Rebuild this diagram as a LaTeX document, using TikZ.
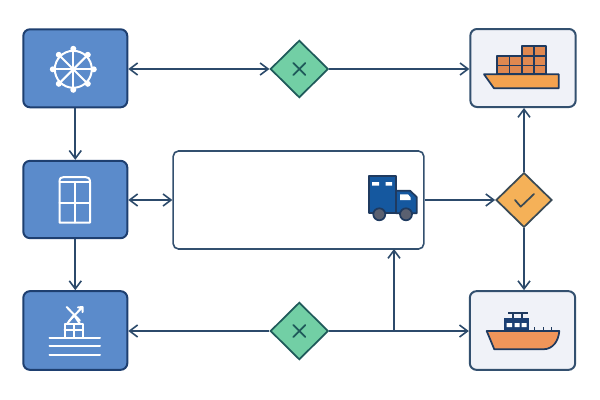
\documentclass[tikz,border=0pt]{standalone}
\usetikzlibrary{shapes.geometric,arrows.meta}
\definecolor{linec}{HTML}{2C4A6B}
\definecolor{blueF}{HTML}{5B8BCB}
\definecolor{blueD}{HTML}{1E3F70}
\definecolor{paleF}{HTML}{F0F2F8}
\definecolor{paleD}{HTML}{33506F}
\definecolor{greenF}{HTML}{72CFA5}
\definecolor{greenD}{HTML}{1F5A5A}
\definecolor{orangeF}{HTML}{F5B158}
\definecolor{orangeD}{HTML}{3A4A55}
\definecolor{hullA}{HTML}{F4A24F}
\definecolor{crate}{HTML}{E08850}
\definecolor{hullB}{HTML}{F0955A}
\definecolor{navy}{HTML}{1B3F73}
\definecolor{darkO}{HTML}{1F3A5F}
\definecolor{truckF}{HTML}{15589F}
\definecolor{wheelF}{HTML}{5A6070}
\tikzset{
  bluebox/.style={draw=blueD,fill=blueF,line width=1.5pt,rounded corners=5pt,inner sep=0pt},
  palebox/.style={draw=paleD,fill=paleF,line width=1.5pt,rounded corners=5pt,inner sep=0pt},
  centerbox/.style={draw=paleD,fill=white,line width=1.2pt,rounded corners=4pt,inner sep=0pt},
  greendia/.style={diamond,aspect=1,draw=greenD,fill=greenF,line width=1.3pt,inner sep=0pt,minimum width=43.5pt,minimum height=43pt},
  orangedia/.style={diamond,aspect=1,draw=orangeD,fill=orangeF,line width=1.3pt,inner sep=0pt,minimum width=42pt,minimum height=41pt},
  conn/.style={draw=linec,line width=1.35pt,-{Straight Barb[length=6pt,width=9pt,line width=1.2pt]}},
  connb/.style={draw=linec,line width=1.35pt,{Straight Barb[length=6pt,width=9pt,line width=1.2pt]}-{Straight Barb[length=6pt,width=9pt,line width=1.2pt]}},
  glyph/.style={draw=white,line width=1.5pt,line cap=round,line join=round},
  sign/.style={line width=1.3pt,line cap=round,line join=round},
  outl/.style={draw=darkO,line width=1.3pt,line join=round}
}
\begin{document}
\begin{tikzpicture}[x=0.75pt,y=-0.75pt]
\useasboundingbox (0,0) rectangle (600,400);
\fill[white] (0,0) rectangle (600,400);
% boxes
\node[bluebox,minimum width=78pt,minimum height=58.5pt] (a1) at (75.3,68.3) {};
\node[bluebox,minimum width=78pt,minimum height=58pt] (a2) at (75.3,199.5) {};
\node[bluebox,minimum width=78pt,minimum height=59pt] (a3) at (75.3,330.5) {};
\node[palebox,minimum width=79pt,minimum height=58.5pt] (r1) at (523,68) {};
\node[palebox,minimum width=79pt,minimum height=59pt] (r3) at (522.5,330.5) {};
\node[centerbox,minimum width=188pt,minimum height=73.5pt] (c) at (298.5,200) {};
\node[greendia] (d1) at (299.3,69) {};
\node[greendia] (d2) at (299.3,331) {};
\node[orangedia] (d3) at (524,200) {};
\coordinate (j) at (394,331);
\coordinate (jt) at (394,249);
% connectors
\draw[connb] (a1.east |- d1) -- (d1.west);
\draw[conn] (d1.east) -- (r1.west |- d1);
\draw[conn] (a1.south) -- (a2.north);
\draw[conn] (a2.south) -- (a3.north);
\draw[connb] (a2.east |- d3) -- (c.west |- d3);
\draw[conn] (c.east |- d3) -- (d3.west);
\draw[conn] (d3.north) -- (r1.south -| d3);
\draw[conn] (d3.south) -- (r3.north -| d3);
\draw[conn] (d2.west) -- (a3.east |- d2);
\draw[conn] (d2.east) -- (r3.west |- d2);
\draw[conn] (j) -- (jt);
% diamond marks
\draw[sign,draw=greenD] (293.3,63) -- (305.3,75) (305.3,63) -- (293.3,75);
\draw[sign,draw=greenD] (293.3,325) -- (305.3,337) (305.3,325) -- (293.3,337);
\draw[sign,draw=orangeD] (515,200) -- (520.7,206.7) -- (534,194);
% wheel
\begin{scope}[shift={(73.3,69.3)}]
\draw[glyph] (0,0) circle (18.5);
\foreach \a in {0,45,...,315}{
  \draw[glyph] (0,0) -- (\a:21);
  \fill[white] (\a:20.5) circle (3);
}
\fill[white] (0,0) circle (2.5);
\end{scope}
% window
\draw[glyph] (59.5,222.5) -- (59.5,182) .. controls (59.5,178) and (61,177) .. (64,177) -- (85,177) .. controls (88,177) and (90,178) .. (90,182) -- (90,222.5) -- cycle;
\draw[glyph] (59.5,182) -- (90,182) (59.5,202.7) -- (90,202.7) (74.5,182) -- (74.5,222.5);
% windmill
\draw[glyph] (49.5,337.7) -- (100,337.7) (49.5,346.3) -- (100,346.3) (49.5,355) -- (100,355);
\draw[glyph] (64.5,337.7) -- (64.5,324) -- (82.5,324) -- (82.5,337.7) (64.5,330) -- (82.5,330) (74,324) -- (74,337.7);
\draw[glyph] (66.7,307) -- (80,320.7) (69,321) -- (82.5,307) (78,307.5) -- (82.5,307) -- (82.5,312);
\draw[glyph] (67,324) -- (74,315) -- (80,324);
% container ship
\draw[outl,fill=crate] (497.3,56) rectangle (521.7,74.3);
\draw[outl,fill=crate] (521.7,46) rectangle (545.7,74.3);
\draw[outl] (497.3,65.5) -- (545.7,65.5) (521.7,56) -- (545.7,56) (509.5,56) -- (509.5,74.3) (534,46) -- (534,74.3);
\draw[outl,fill=hullA] (484,74.3) -- (558.7,74.3) -- (558.7,88.3) -- (494,88.3) -- cycle;
% ferry
\draw[outl] (508,313) -- (527.7,313) (513.3,313) -- (513.3,318.3) (521.7,313) -- (521.7,318.3);
\draw[outl,line width=1pt] (534.3,327) -- (534.3,331) (543.3,327) -- (543.3,331) (551.7,327) -- (551.7,331);
\fill[navy] (504.3,318.3) rectangle (529,331);
\fill[white] (506.5,323) rectangle (512,327) (514.5,323) rectangle (519.5,327) (521.5,323) rectangle (526.5,327);
\draw[outl,fill=hullB] (486.7,331) -- (559.3,331) .. controls (558.5,341) and (553,349.3) .. (543,349.3) -- (494.3,349.3) -- cycle;
% truck
\draw[outl,fill=truckF] (369.3,176) rectangle (396,213.3);
\draw[outl,fill=truckF] (396,190.7) -- (410,190.7) -- (416.7,197) -- (416.7,213.3) -- (396,213.3) -- cycle;
\fill[white] (400,194.3) -- (408,194.3) -- (410.7,197.5) -- (410.7,200) -- (400,200) -- cycle;
\fill[white] (372,182) rectangle (379,185.7) (385.7,182) rectangle (392,185.7);
\draw[outl,fill=wheelF] (379.3,214.3) circle (6);
\draw[outl,fill=wheelF] (406,214.3) circle (6);
\end{tikzpicture}
\end{document}
